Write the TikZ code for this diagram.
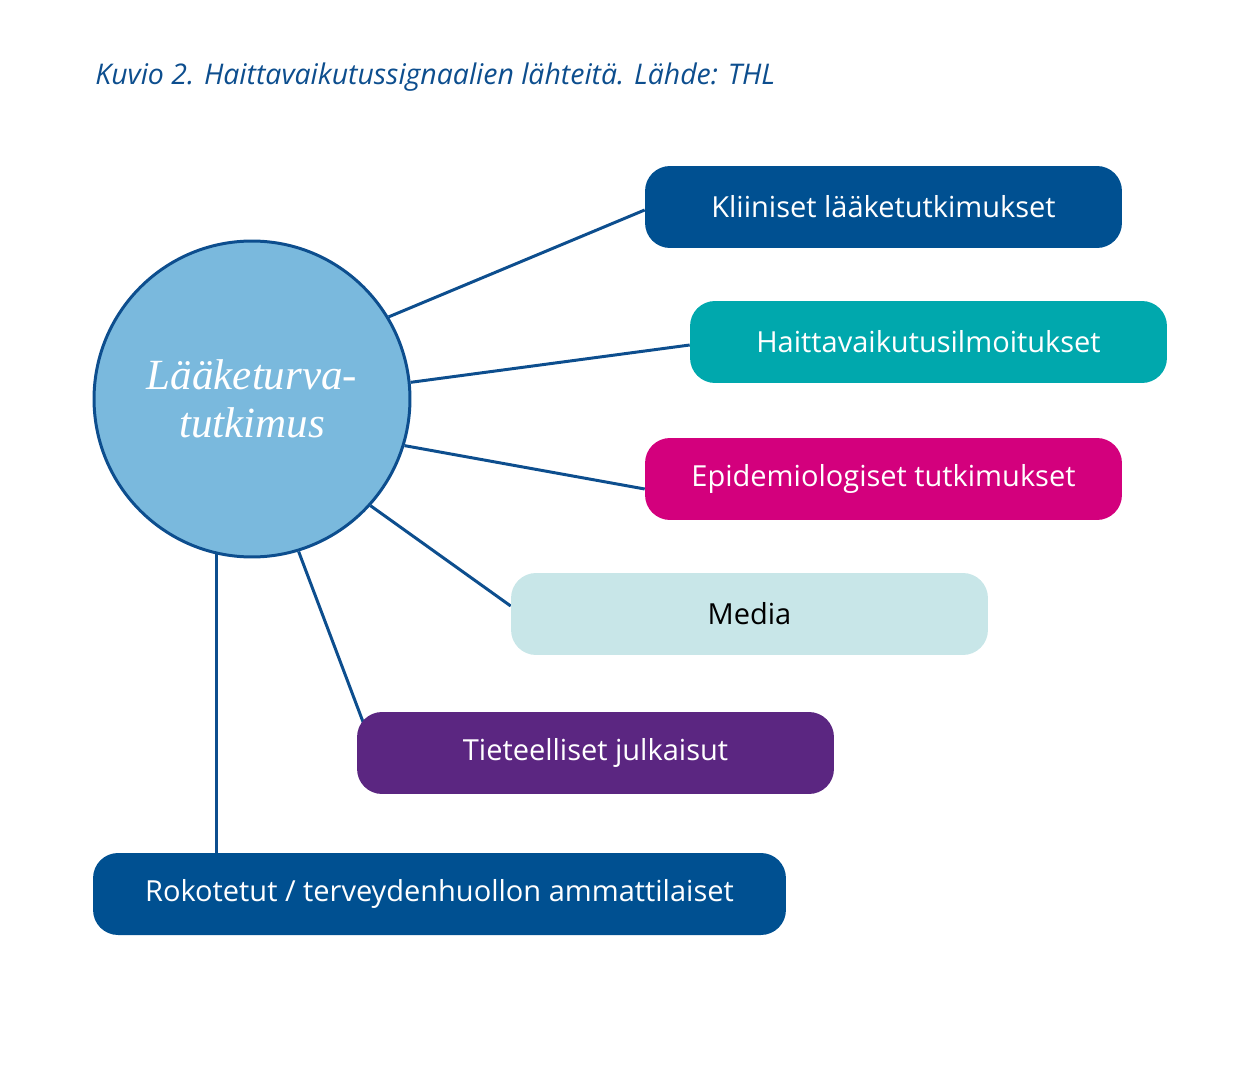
\documentclass[tikz,border=0pt]{standalone}
\usepackage{fontspec}
\setmainfont{Open Sans}
\newfontfamily\circfont{Liberation Serif}
\usetikzlibrary{backgrounds,calc}
\definecolor{thlblue}{HTML}{005091}
\definecolor{thlteal}{HTML}{00A8AD}
\definecolor{thlmag}{HTML}{D3007D}
\definecolor{thllight}{HTML}{C8E6E8}
\definecolor{thlpurple}{HTML}{5B2681}
\definecolor{circfill}{HTML}{7AB9DD}
\definecolor{lineblue}{HTML}{0D4E8E}
\tikzset{
  srcbox/.style={rounded corners=0.5cm, minimum width=9.54cm, minimum height=1.64cm, inner sep=0pt, text=white, font=\fontsize{16.5}{19}\selectfont},
  link/.style={draw=lineblue, line width=1.7pt},
}
\begin{document}
\begin{tikzpicture}[x=0.02cm,y=-0.02cm]
\useasboundingbox (0,0) rectangle (1250,1074);
\node[anchor=base west, text=lineblue, font=\fontsize{16.2}{19}\itshape\selectfont, inner sep=0pt] (cap) at (95,85) {Kuvio 2. Haittavaikutussignaalien lähteitä. Lähde: THL};
\node[circle, draw=lineblue, line width=1.7pt, fill=circfill, minimum size=6.32cm, inner sep=0pt, text=white, font=\circfont\itshape\fontsize{24.5}{27.5}\selectfont, align=center] (c) at (252,399) {Lääketurva-\\tutkimus};
\node[srcbox, fill=thlblue] (b1) at (883.5,207) {Kliiniset lääketutkimukset};
\node[srcbox, fill=thlteal] (b2) at (928.5,342) {Haittavaikutusilmoitukset};
\node[srcbox, fill=thlmag] (b3) at (883.5,479) {Epidemiologiset tutkimukset};
\node[srcbox, fill=thllight, text=black] (b4) at (749.5,614) {Media};
\node[srcbox, fill=thlpurple] (b5) at (595.5,753) {Tieteelliset julkaisut};
\node[srcbox, fill=thlblue, minimum width=13.86cm] (b6) at (439.5,894) {Rokotetut / terveydenhuollon ammattilaiset};
\begin{scope}[on background layer]
\draw[link] (c.31) -- ($(b1.west)+(0,3)$);
\draw[link] (c.6.5) -- ($(b2.west)+(0,3)$);
\draw[link] (c.-17.5) -- ($(b3.west)+(0,10)$);
\draw[link] (c.-42.7) -- ($(b4.west)+(0,-8)$);
\draw[link] (c.-73) -- ($(b5.north west)+(7,12)$);
\draw[link] (c.-103) -- (c.-103 |- b6.north);
\end{scope}
\end{tikzpicture}
\end{document}
